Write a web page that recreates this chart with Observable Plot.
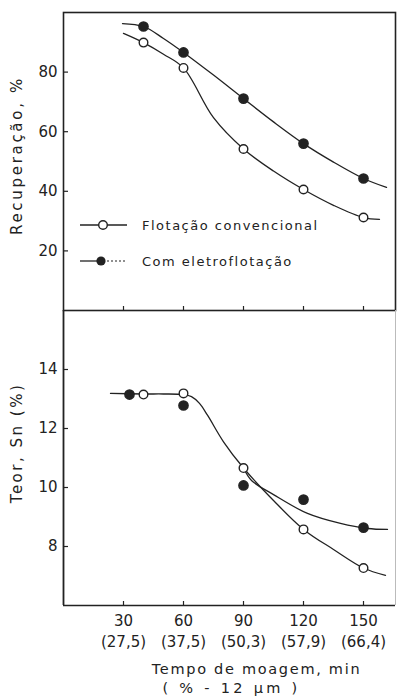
<!DOCTYPE html>
<html><head><meta charset="utf-8">
<script src="https://cdn.jsdelivr.net/npm/d3@7"></script>
<script src="https://cdn.jsdelivr.net/npm/@observablehq/plot@0.6"></script>
<style>
body{margin:0;background:#fff;}
#wrap{position:relative;width:397px;height:700px;font-family:"DejaVu Sans",sans-serif;color:#222;overflow:hidden}
#wrap svg{display:block}
.leg{position:absolute;left:78px;height:20px;display:flex;align-items:center;font-size:13px;letter-spacing:1.5px;color:#222}
.leg svg{margin-right:14px}
</style></head><body><div id="wrap"></div>
<script>
// measured points
const minutes = [40, 60, 90, 120, 150];
const recConv = [89.9, 81.4, 54.2, 40.6, 31.2];
const recElec = [95.3, 86.6, 71.1, 56.0, 44.3];
const teorConvMin = [40, 60, 90, 120, 150];
const teorConv = [13.15, 13.19, 10.66, 8.58, 7.27];
const teorElecMin = [33, 60, 90, 120, 150];
const teorElec = [13.15, 12.78, 10.07, 9.59, 8.64];
// fitted curves as drawn in the figure
const recConvCurveMin = [30, 40, 50, 60, 75, 90, 105, 120, 135, 150, 158];
const recConvCurve = [93, 89.9, 86.0, 81.4, 64.7, 54.2, 46.8, 40.6, 35.3, 31.2, 30.6];
const recElecCurveMin = [29.5, 40, 50, 60, 75, 90, 105, 120, 135, 150, 161.5];
const recElecCurve = [96.3, 95.3, 91.3, 86.6, 79, 71.1, 63.3, 56, 49.8, 44.3, 41.3];
const teorConvCurveMin = [23.5, 40, 50, 60, 64, 68, 72, 80, 90, 105, 120, 135, 150, 161];
const teorConvCurve = [13.19, 13.17, 13.17, 13.15, 13.08, 12.85, 12.45, 11.55, 10.66, 9.56, 8.58, 7.9, 7.27, 7.02];
const teorElecCurveMin = [90, 94, 105, 122, 138.5, 152, 162];
const teorElecCurve = [10.66, 10.24, 9.76, 9.12, 8.78, 8.61, 8.58];
// ticks
const xTicks = [30, 60, 90, 120, 150];
const xPct = ["(27,5)", "(37,5)", "(50,3)", "(57,9)", "(66,4)"];
const recTicks = [20, 40, 60, 80];
const teorTicks = [8, 10, 12, 14];
const seriesNames = ["Flotação convencional", "Com eletroflotação"];
const yTitleTop = "Recuperação, %";
const yTitleBottom = "Teor, Sn (%)";
const xTitle1 = "Tempo de moagem, min";
const xTitle2 = "( % - 12 µm )";

const W = 397, ML = 63, MR = 2;
const ink = "#222";
const xDomain = [0, 166];
const pts = (xs, ys) => xs.map((x, i) => ({x, y: ys[i]}));
const font = {fontSize: 15, fontFamily: "DejaVu Sans", fill: ink};
const crv = "catmull-rom";

const topH = 310, topMT = 12;
const topPlot = Plot.plot({
  width: W, height: topH, marginLeft: ML, marginRight: MR, marginTop: topMT, marginBottom: 0,
  style: {fontFamily: "DejaVu Sans", color: ink, background: "white", overflow: "visible"},
  x: {domain: xDomain, axis: null},
  y: {domain: [0, 100], axis: null},
  marks: [
    Plot.frame({stroke: ink, strokeWidth: 1.6}),
    Plot.axisY({ticks: recTicks, tickSize: 0, tickPadding: 6, ...font, label: null}),
    Plot.tickY(recTicks, {y: d => d, insetRight: W - ML - MR - 5, stroke: ink, strokeWidth: 1.2}),
    Plot.tickX(xTicks, {x: d => d, insetTop: topH - topMT - 4, stroke: ink, strokeWidth: 1.2}),
    Plot.line(pts(recConvCurveMin, recConvCurve), {x: "x", y: "y", curve: crv, stroke: ink, strokeWidth: 1.3}),
    Plot.line(pts(recElecCurveMin, recElecCurve), {x: "x", y: "y", curve: crv, stroke: ink, strokeWidth: 1.3}),
    Plot.dot(pts(minutes, recConv), {x: "x", y: "y", r: 4.3, fill: "white", stroke: ink, strokeWidth: 1.4}),
    Plot.dot(pts(minutes, recElec), {x: "x", y: "y", r: 4.6, fill: ink, stroke: ink}),
    Plot.text([yTitleTop], {frameAnchor: "left", textAnchor: "middle", rotate: -90, dx: -46, dy: -6, fontSize: 15, fill: ink, text: d => d})
  ]
});

const botH = 390, botMB = 95;
const botPlot = Plot.plot({
  width: W, height: botH, marginLeft: ML, marginRight: MR, marginTop: 0, marginBottom: botMB,
  style: {fontFamily: "DejaVu Sans", color: ink, background: "white", overflow: "visible"},
  x: {domain: xDomain, axis: null},
  y: {domain: [6, 16], axis: null},
  marks: [
    Plot.ruleX([xDomain[0]], {stroke: ink, strokeWidth: 1.8}),
    Plot.ruleX([xDomain[1]], {stroke: "#bbb", strokeWidth: 1}),
    Plot.ruleY([6], {stroke: ink, strokeWidth: 1.4}),
    Plot.axisY({ticks: teorTicks, tickSize: 0, tickPadding: 6, ...font, label: null}),
    Plot.tickY(teorTicks, {y: d => d, insetRight: W - ML - MR - 5, stroke: ink, strokeWidth: 1.2}),
    Plot.tickX(xTicks, {x: d => d, insetTop: botH - botMB - 4, stroke: ink, strokeWidth: 1.2}),
    Plot.axisX({ticks: xTicks, tickSize: 0, tickPadding: 6, ...font, lineHeight: 1.4, label: null,
      tickFormat: (d) => `${d}\n${xPct[xTicks.indexOf(d)]}`}),
    Plot.line(pts(teorConvCurveMin, teorConvCurve), {x: "x", y: "y", curve: crv, stroke: ink, strokeWidth: 1.3}),
    Plot.line(pts(teorElecCurveMin, teorElecCurve), {x: "x", y: "y", curve: crv, stroke: ink, strokeWidth: 1.3}),
    Plot.dot(pts(teorElecMin, teorElec), {x: "x", y: "y", r: 4.6, fill: ink, stroke: ink}),
    Plot.dot(pts(teorConvMin, teorConv), {x: "x", y: "y", r: 4.3, fill: "white", stroke: ink, strokeWidth: 1.4}),
    Plot.text([yTitleBottom], {frameAnchor: "left", textAnchor: "middle", rotate: -90, dx: -46, dy: -15, fontSize: 15, fill: ink, text: d => d}),
    Plot.text([xTitle1], {frameAnchor: "bottom", dx: 27, dy: 68, fontSize: 14.5, fill: ink, text: d => d}),
    Plot.text([xTitle2], {frameAnchor: "bottom", dx: 2, dy: 87, fontSize: 14.5, fill: ink, text: d => d})
  ]
});

const wrap = document.getElementById("wrap");
wrap.appendChild(topPlot);
wrap.appendChild(botPlot);

// letter spacing of titles (the original lettering is wide)
const spacing = new Map([[yTitleTop, 2.7], [yTitleBottom, 2.5], [xTitle1, 1.7], [xTitle2, 3.3]]);
d3.select(wrap).selectAll("svg text")
  .filter(function () { return spacing.has(this.textContent); })
  .style("letter-spacing", function () { return spacing.get(this.textContent) + "px"; });

// legend inside top panel
function legendRow(top, name, filled) {
  const div = document.createElement("div");
  div.className = "leg";
  div.style.top = top + "px";
  const svg = d3.create("svg").attr("width", 50).attr("height", 20);
  if (filled) {
    svg.append("line").attr("x1", 2).attr("x2", 25).attr("y1", 10).attr("y2", 10).attr("stroke", ink).attr("stroke-width", 1.3);
    svg.append("line").attr("x1", 25).attr("x2", 49).attr("y1", 10).attr("y2", 10).attr("stroke", ink).attr("stroke-width", 1.1).attr("stroke-dasharray", "2,2");
    svg.append("circle").attr("cx", 23).attr("cy", 10).attr("r", 4.6).attr("fill", ink);
  } else {
    svg.append("line").attr("x1", 2).attr("x2", 49).attr("y1", 10).attr("y2", 10).attr("stroke", ink).attr("stroke-width", 1.3);
    svg.append("circle").attr("cx", 25).attr("cy", 10).attr("r", 4.3).attr("fill", "white").attr("stroke", ink).attr("stroke-width", 1.4);
  }
  div.appendChild(svg.node());
  const span = document.createElement("span");
  span.textContent = name;
  div.appendChild(span);
  wrap.appendChild(div);
}
legendRow(215, seriesNames[0], false);
legendRow(251, seriesNames[1], true);
</script></body></html>
